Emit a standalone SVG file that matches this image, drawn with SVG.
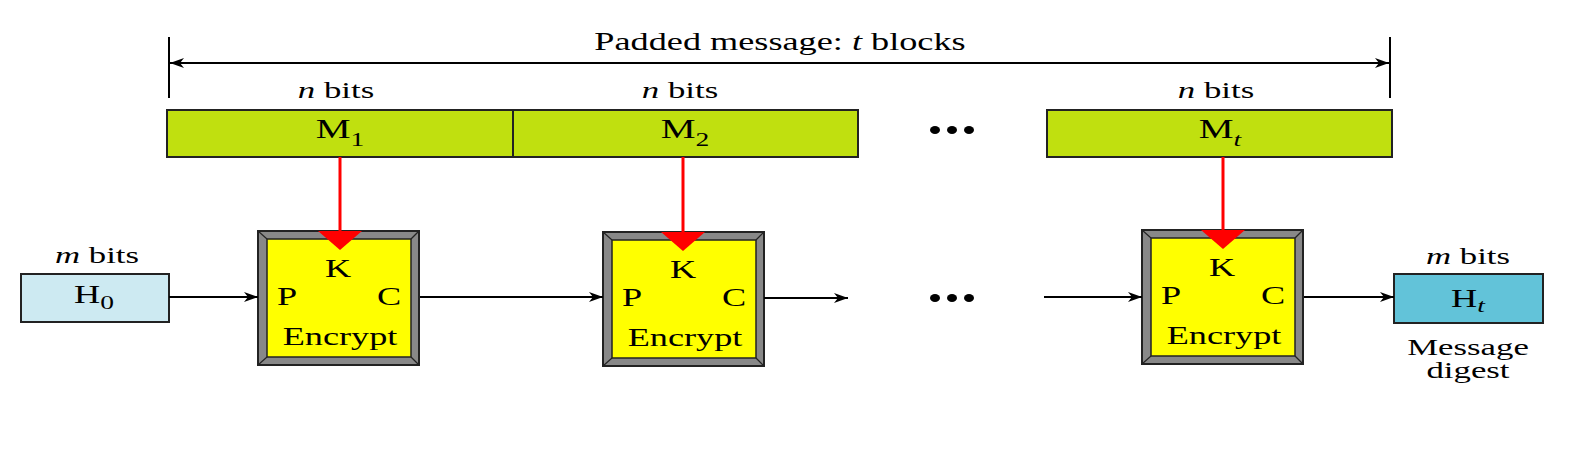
<svg xmlns="http://www.w3.org/2000/svg" width="1587" height="473" viewBox="0 0 1587 473">
<defs>
<style>
text{font-family:"Liberation Serif","Times New Roman",serif;font-size:25px;fill:#000;text-anchor:middle}
.s24{font-size:24px}
.s27{font-size:27px}
.blk{fill:#c0e00f;stroke:#222;stroke-width:2}
.ln{stroke:#000;stroke-width:2;fill:none}
.red{stroke:#ff0000;stroke-width:3;fill:none}
.bev{fill:#888;stroke:#222;stroke-width:2}
.inner{fill:#ffff00;stroke:#222;stroke-width:1.5}
.dg{stroke:#222;stroke-width:1.2}
.sub{font-size:19px}
</style>
<marker id="ah" viewBox="0 0 14 10" refX="14" refY="5" markerWidth="14" markerHeight="10" markerUnits="userSpaceOnUse" orient="auto-start-reverse">
<path d="M0,0 L14,5 L0,10 L4,5 z" fill="#000"/>
</marker>
<g id="encbox">
<rect class="bev" x="0" y="0" width="161" height="134"/>
<rect class="inner" x="9" y="8" width="144" height="118"/>
<line class="dg" x1="0" y1="0" x2="9" y2="8"/>
<line class="dg" x1="161" y1="0" x2="153" y2="8"/>
<line class="dg" x1="0" y1="134" x2="9" y2="126"/>
<line class="dg" x1="161" y1="134" x2="153" y2="126"/>
<text transform="translate(80,46) scale(1.45,1)">K</text>
<text transform="translate(29,74) scale(1.45,1)">P</text>
<text transform="translate(131,74) scale(1.45,1)">C</text>
<text transform="translate(82,114) scale(1.45,1)">Encrypt</text>
</g>
</defs>
<rect width="1587" height="473" fill="#fff"/>

<g id="span">
<line class="ln" x1="169" y1="37" x2="169" y2="98"/>
<line class="ln" x1="1390" y1="37" x2="1390" y2="98"/>
<line class="ln" x1="170" y1="63" x2="1389" y2="63" marker-start="url(#ah)" marker-end="url(#ah)"/>
<text transform="translate(780,50) scale(1.45,1)">Padded message: <tspan font-style="italic">t</tspan> blocks</text>
</g>

<g id="M1">
<text class="s24" transform="translate(336,98) scale(1.45,1)"><tspan font-style="italic">n</tspan> bits</text>
<rect class="blk" x="167" y="110" width="346" height="47"/>
<text class="s27" transform="translate(340,138) scale(1.45,1)">M<tspan class="sub" dy="8">1</tspan></text>
</g>
<g id="M2">
<text class="s24" transform="translate(680,98) scale(1.45,1)"><tspan font-style="italic">n</tspan> bits</text>
<rect class="blk" x="513" y="110" width="345" height="47"/>
<text class="s27" transform="translate(685,138) scale(1.45,1)">M<tspan class="sub" dy="8">2</tspan></text>
</g>
<g id="Mt">
<text class="s24" transform="translate(1216,98) scale(1.45,1)"><tspan font-style="italic">n</tspan> bits</text>
<rect class="blk" x="1047" y="110" width="345" height="47"/>
<text class="s27" transform="translate(1220,138) scale(1.45,1)">M<tspan class="sub" font-style="italic" dy="8">t</tspan></text>
</g>

<g id="dots">
<ellipse cx="935" cy="130" rx="5" ry="4"/>
<ellipse cx="952" cy="130" rx="5" ry="4"/>
<ellipse cx="969" cy="130" rx="5" ry="4"/>
<ellipse cx="935" cy="298" rx="5" ry="4"/>
<ellipse cx="952" cy="298" rx="5" ry="4"/>
<ellipse cx="969" cy="298" rx="5" ry="4"/>
</g>

<g id="H0">
<text class="s24" transform="translate(97,263) scale(1.45,1)"><tspan font-style="italic">m</tspan> bits</text>
<rect x="21" y="274" width="148" height="48" fill="#cdeaf2" stroke="#222" stroke-width="2"/>
<text transform="translate(94,303) scale(1.45,1)">H<tspan class="sub" dy="6">0</tspan></text>
</g>

<g id="E1"><use href="#encbox" x="258" y="231"/></g>
<g id="E2"><use href="#encbox" x="603" y="232"/></g>
<g id="E3"><use href="#encbox" x="1142" y="230"/></g>

<g id="Ht">
<text class="s24" transform="translate(1468,264) scale(1.45,1)"><tspan font-style="italic">m</tspan> bits</text>
<rect x="1394" y="274" width="149" height="49" fill="#62c3d9" stroke="#222" stroke-width="2"/>
<text transform="translate(1468,307) scale(1.45,1)">H<tspan class="sub" font-style="italic" dy="5">t</tspan></text>
<text class="s24" transform="translate(1468,355) scale(1.45,1)">Message</text>
<text class="s24" transform="translate(1468,378) scale(1.45,1)">digest</text>
</g>

<g id="connectors">
<line class="red" x1="340" y1="157" x2="340" y2="238"/>
<polygon points="318,231 362,231 340,250" fill="#ff0000"/>
<line class="red" x1="683" y1="157" x2="683" y2="239"/>
<polygon points="661,232 705,232 683,251" fill="#ff0000"/>
<line class="red" x1="1223" y1="157" x2="1223" y2="237"/>
<polygon points="1201,230 1245,230 1223,249" fill="#ff0000"/>
<line class="ln" x1="169" y1="297" x2="258" y2="297" marker-end="url(#ah)"/>
<line class="ln" x1="420" y1="297" x2="603" y2="297" marker-end="url(#ah)"/>
<line class="ln" x1="764" y1="298" x2="848" y2="298" marker-end="url(#ah)"/>
<line class="ln" x1="1044" y1="297" x2="1142" y2="297" marker-end="url(#ah)"/>
<line class="ln" x1="1304" y1="297" x2="1394" y2="297" marker-end="url(#ah)"/>
</g>
</svg>
